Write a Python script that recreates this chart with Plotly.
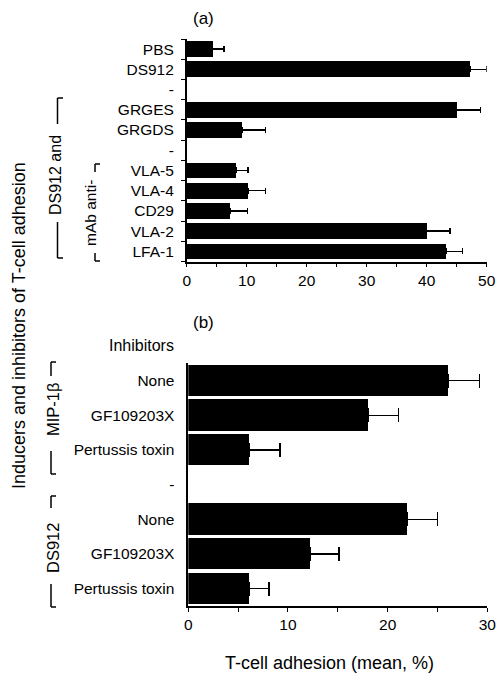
import plotly.graph_objects as go

W, H = 497, 676

# ---- data ----
cats_a = ["PBS", "DS912", "-", "GRGES", "GRGDS", "-", "VLA-5", "VLA-4", "CD29", "VLA-2", "LFA-1"]
vals_a = [4.3, 47.2, None, 45.0, 9.2, None, 8.2, 10.2, 7.2, 40.0, 43.2]
err_a = [1.9, 2.8, None, 4.0, 3.9, None, 2.0, 2.9, 2.9, 3.9, 2.8]

cats_b = ["None", "GF109203X", "Pertussis toxin", "-", "None", "GF109203X", "Pertussis toxin"]
vals_b = [26.1, 18.1, 6.1, None, 22.0, 12.2, 6.1]
err_b = [3.1, 3.0, 3.1, None, 3.0, 2.9, 2.0]

ticks_a = [0, 10, 20, 30, 40, 50]
ticks_b = [0, 10, 20, 30]

FONT = "Liberation Sans, Arial, Helvetica, sans-serif"


def px(x):
    return x / W


def py(y):
    return 1 - y / H


pos_a = list(range(len(cats_a)))
pos_b = list(range(len(cats_b)))

fig = go.Figure()
fig.add_trace(go.Bar(
    x=vals_a, y=pos_a, orientation="h", width=0.78,
    marker=dict(color="black", line=dict(width=0)),
    error_x=dict(type="data", symmetric=False, array=err_a,
                 arrayminus=[0 if v is not None else None for v in vals_a],
                 color="black", thickness=1.5, width=3),
    xaxis="x", yaxis="y", showlegend=False, hoverinfo="skip"))
fig.add_trace(go.Bar(
    x=vals_b, y=pos_b, orientation="h", width=0.9,
    marker=dict(color="black", line=dict(width=0)),
    error_x=dict(type="data", symmetric=False, array=err_b,
                 arrayminus=[0 if v is not None else None for v in vals_b],
                 color="black", thickness=1.5, width=7),
    xaxis="x2", yaxis="y2", showlegend=False, hoverinfo="skip"))

axcommon = dict(showline=True, linecolor="black", linewidth=1.5, showgrid=False,
                zeroline=False, tickfont=dict(size=15.5, color="black", family=FONT),
                automargin=False)

fig.update_layout(
    width=W, height=H,
    margin=dict(l=0, r=0, t=0, b=0, pad=0),
    paper_bgcolor="white", plot_bgcolor="white",
    font=dict(family=FONT, color="black"),
    bargap=0,
    xaxis=dict(domain=[px(186.7), px(486.7)], range=[0, 50], anchor="y",
               tickmode="array", tickvals=ticks_a, ticks="outside", ticklen=4,
               tickwidth=1.2, tickcolor="black",
               minor=dict(dtick=5, tick0=0, ticks="outside", ticklen=4, tickwidth=1.2,
                          tickcolor="black"),
               **axcommon),
    yaxis=dict(domain=[py(261.5), py(39)], range=[len(cats_a) - 0.5, -0.5], anchor="x",
               tickmode="array", tickvals=pos_a, ticktext=cats_a,
               ticks="outside", ticklen=8, tickcolor="rgba(0,0,0,0)",
               minor=dict(tickmode="array", tickvals=[p - 0.5 for p in pos_a] + [len(cats_a) - 0.5],
                          ticks="outside", ticklen=4, tickwidth=1.2, tickcolor="black"),
               **axcommon),
    xaxis2=dict(domain=[px(188.3), px(487.3)], range=[0, 30], anchor="y2",
                tickmode="array", tickvals=ticks_b, ticks="outside", ticklen=4,
                tickwidth=1.2, tickcolor="black",
                minor=dict(dtick=5, tick0=0, ticks="outside", ticklen=4, tickwidth=1.2,
                           tickcolor="black"),
                **axcommon),
    yaxis2=dict(domain=[py(606), py(363.3)], range=[len(cats_b) - 0.5, -0.5], anchor="x2",
                tickmode="array", tickvals=pos_b, ticktext=cats_b,
                ticks="outside", ticklen=9, tickcolor="rgba(0,0,0,0)",
                **axcommon),
)

ann = []


def text(x, y, s, size=15, angle=0, xanchor="center"):
    ann.append(dict(x=px(x), y=py(y), xref="paper", yref="paper", text=s, showarrow=False,
                    textangle=angle, xanchor=xanchor, yanchor="middle",
                    font=dict(size=size, color="black", family=FONT)))


text(203, 19, "(a)", 17)
text(203, 323, "(b)", 17)
text(176, 345, "Inhibitors", 16, xanchor="right")
text(19, 326, "Inducers and inhibitors of T-cell adhesion", 18, angle=-90)
text(329, 663, "T-cell adhesion (mean, %)", 18)
text(56, 175, "DS912 and", 16, angle=-90)
text(90, 213, "mAb anti-", 15.5, angle=-90)
text(53, 409, "MIP-1β", 16.5, angle=-90)
text(53, 548, "DS912", 16.5, angle=-90)
fig.update_layout(annotations=ann)

shapes = []


def seg(x0, y0, x1, y1):
    shapes.append(dict(type="line", xref="paper", yref="paper", x0=px(x0), y0=py(y0),
                       x1=px(x1), y1=py(y1), line=dict(color="black", width=1.5)))


# DS912 and bracket
seg(57.5, 98, 63, 98)
seg(57.5, 98, 57.5, 124)
seg(57.5, 222, 57.5, 258)
seg(57.5, 258, 63, 258)
# mAb anti- bracket
seg(95, 164, 100, 164)
seg(95, 164, 95, 172)
seg(95, 253, 95, 261)
seg(95, 261, 100, 261)
# MIP-1β bracket
seg(51, 362, 56, 362)
seg(51, 362, 51, 376)
seg(51, 451, 51, 474)
seg(51, 474, 56, 474)
# DS912 bracket (b)
seg(51, 496, 56, 496)
seg(51, 496, 51, 508)
seg(51, 584, 51, 607)
seg(51, 607, 56, 607)
fig.update_layout(shapes=shapes)

fig.write_html("out.html", config={"displayModeBar": False},
               post_script="document.body.style.margin='0';document.body.style.overflow='hidden';")
